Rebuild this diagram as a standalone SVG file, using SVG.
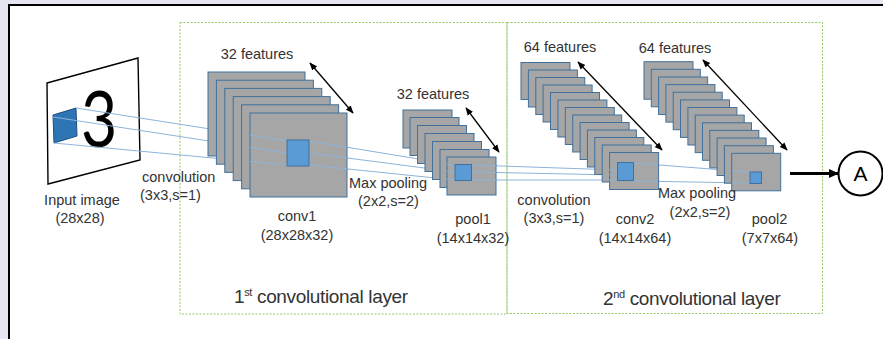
<svg xmlns="http://www.w3.org/2000/svg" xmlns:xlink="http://www.w3.org/1999/xlink" width="883" height="339" viewBox="0 0 883 339">
  <defs>
    <style>
      text { font-family: "Liberation Sans", Arial, sans-serif; fill: #333; font-size: 14.5px; }
      .c { text-anchor: middle; }
      .big { font-size: 19px; letter-spacing: -0.35px; }
      .map { fill: #a6a6a6; stroke: #41719c; stroke-width: 1; }
      .kern { fill: #5b9bd5; stroke: #41719c; stroke-width: 1; }
      .link { stroke: #8db3da; stroke-width: 1; fill: none; }
      .dim { stroke: #000; stroke-width: 1.3; fill: none; marker-start: url(#tip); marker-end: url(#tip); }
      .layer { fill: none; stroke: #92c967; stroke-width: 1; stroke-dasharray: 2 1.5; }
    </style>
    <marker id="tip" viewBox="0 0 10 10" refX="9" refY="5" markerWidth="8" markerHeight="8" orient="auto-start-reverse" markerUnits="userSpaceOnUse">
      <path d="M0,1 L10,5 L0,9 z" fill="#000"/>
    </marker>
    <marker id="head" viewBox="0 0 10 10" refX="9" refY="5" markerWidth="10" markerHeight="10" orient="auto" markerUnits="userSpaceOnUse">
      <path d="M0,0.5 L10,5 L0,9.5 z" fill="#000"/>
    </marker>
    <!-- front feature maps: links are shown on top of these only -->
    <clipPath id="front">
      <rect x="250" y="113" width="97" height="84"/>
      <rect x="447" y="157" width="49" height="38"/>
      <rect x="609" y="152" width="49" height="37"/>
      <rect x="732" y="153" width="49" height="37.5"/>
    </clipPath>
  </defs>

  <!-- page -->
  <rect x="0" y="0" width="883" height="339" fill="#e6e6f0"/>
  <rect x="9" y="5" width="900" height="400" fill="#fff" stroke="#000" stroke-width="2"/>

  <!-- layer frames -->
  <g id="layer1">
    <rect class="layer" x="180" y="22.5" width="327" height="291.5"/>
    <text class="big" x="234" y="303">1<tspan font-size="11" dy="-7">st</tspan><tspan dy="7"> convolutional layer</tspan></text>
  </g>
  <g id="layer2">
    <rect class="layer" x="507" y="22.5" width="315.5" height="291"/>
    <text class="big" x="603" y="305">2<tspan font-size="11" dy="-7">nd</tspan><tspan dy="7"> convolutional layer</tspan></text>
  </g>

  <!-- input image -->
  <g id="input">
    <polygon points="47,83 138,58 140,160 48,184" fill="#fff" stroke="#000" stroke-width="1.4"/>
    <text transform="translate(99,147) scale(0.8,1)" x="0" y="0" style="font-family: Lato, 'Open Sans', sans-serif; font-weight: 400; font-size: 78px; fill: #000" text-anchor="middle">3</text>
    <polygon class="kern" points="53,115 76,108 77,136 54,143" style="fill:#2e75b6;stroke:#1f4e79"/>
    <text class="c" x="82" y="205">Input image</text>
    <text class="c" x="80" y="223">(28x28)</text>
  </g>

  <!-- receptive-field links -->
  <g id="connectors">
    <line class="link" x1="76" y1="108" x2="287" y2="141"/>
    <line class="link" x1="53" y1="117" x2="287" y2="153"/>
    <line class="link" x1="54" y1="143" x2="287" y2="165"/>
    <line class="link" x1="309" y1="141" x2="455" y2="165"/>
    <line class="link" x1="309" y1="153" x2="455" y2="172"/>
    <line class="link" x1="309" y1="165" x2="455" y2="180"/>
    <line class="link" x1="472" y1="165" x2="617" y2="170"/>
    <line class="link" x1="472" y1="172" x2="617" y2="175"/>
    <line class="link" x1="472" y1="180" x2="617" y2="180"/>
    <line class="link" x1="633" y1="163" x2="750" y2="172"/>
    <line class="link" x1="633" y1="181" x2="750" y2="183"/>
  </g>

  <!-- conv1: 32 feature maps 28x28 -->
  <g id="conv1">
    <rect class="map" x="208" y="72" width="97" height="84"/>
    <rect class="map" x="216.4" y="80.2" width="97" height="84"/>
    <rect class="map" x="224.8" y="88.4" width="97" height="84"/>
    <rect class="map" x="233.2" y="96.6" width="97" height="84"/>
    <rect class="map" x="241.6" y="104.8" width="97" height="84"/>
    <rect class="map" x="250" y="113" width="97" height="84"/>
    <line class="dim" x1="310" y1="63" x2="353" y2="113"/>
    <text class="c" x="257" y="59">32 features</text>
    <text x="142" y="182">convolution</text>
    <text x="140" y="200">(3x3,s=1)</text>
    <text class="c" x="297" y="221">conv1</text>
    <text class="c" x="297" y="240">(28x28x32)</text>
  </g>

  <!-- pool1: 32 maps 14x14 -->
  <g id="pool1">
    <rect class="map" x="403" y="110" width="49" height="38"/>
    <rect class="map" x="410" y="117.5" width="49" height="38"/>
    <rect class="map" x="417.5" y="125.5" width="49" height="38"/>
    <rect class="map" x="425" y="133.5" width="49" height="38"/>
    <rect class="map" x="432.5" y="141.5" width="49" height="38"/>
    <rect class="map" x="440" y="149.5" width="49" height="38"/>
    <rect class="map" x="447" y="157" width="49" height="38"/>
    <line class="dim" x1="466" y1="108" x2="499" y2="152"/>
    <text class="c" x="433" y="99">32 features</text>
    <text x="349" y="188">Max pooling</text>
    <text x="358" y="206">(2x2,s=2)</text>
    <text class="c" x="473" y="224">pool1</text>
    <text class="c" x="473" y="242.5">(14x14x32)</text>
  </g>

  <!-- conv2: 64 feature maps 14x14 -->
  <g id="conv2">
    <rect class="map" x="521" y="62.5" width="49" height="37"/>
    <rect class="map" x="528.4" y="70" width="49" height="37"/>
    <rect class="map" x="535.8" y="77.5" width="49" height="37"/>
    <rect class="map" x="543.1" y="85" width="49" height="37"/>
    <rect class="map" x="550.5" y="92.5" width="49" height="37"/>
    <rect class="map" x="557.9" y="100" width="49" height="37"/>
    <rect class="map" x="565.3" y="107.5" width="49" height="37"/>
    <rect class="map" x="572.7" y="115" width="49" height="37"/>
    <rect class="map" x="580.1" y="122.5" width="49" height="37"/>
    <rect class="map" x="587.4" y="130" width="49" height="37"/>
    <rect class="map" x="594.8" y="137.5" width="49" height="37"/>
    <rect class="map" x="602.2" y="145" width="49" height="37"/>
    <rect class="map" x="609.6" y="152.5" width="49" height="37"/>
    <line class="dim" x1="578" y1="62" x2="662" y2="150"/>
    <text class="c" x="560" y="52">64 features</text>
    <text class="c" x="554" y="205">convolution</text>
    <text class="c" x="554" y="223">(3x3,s=1)</text>
    <text class="c" x="635" y="224">conv2</text>
    <text class="c" x="635" y="242.5">(14x14x64)</text>
  </g>

  <!-- pool2: 64 maps 7x7 -->
  <g id="pool2">
    <rect class="map" x="644" y="61.7" width="49" height="37.5"/>
    <rect class="map" x="651.3" y="69.3" width="49" height="37.5"/>
    <rect class="map" x="658.6" y="77" width="49" height="37.5"/>
    <rect class="map" x="665.9" y="84.6" width="49" height="37.5"/>
    <rect class="map" x="673.2" y="92.2" width="49" height="37.5"/>
    <rect class="map" x="680.5" y="99.9" width="49" height="37.5"/>
    <rect class="map" x="687.9" y="107.5" width="49" height="37.5"/>
    <rect class="map" x="695.2" y="115.1" width="49" height="37.5"/>
    <rect class="map" x="702.5" y="122.8" width="49" height="37.5"/>
    <rect class="map" x="709.8" y="130.4" width="49" height="37.5"/>
    <rect class="map" x="717.1" y="138" width="49" height="37.5"/>
    <rect class="map" x="724.4" y="145.7" width="49" height="37.5"/>
    <rect class="map" x="731.7" y="153.3" width="49" height="37.5"/>
    <line class="dim" x1="703" y1="60" x2="787" y2="150"/>
    <text class="c" x="675" y="52.5">64 features</text>
    <text class="c" x="697" y="198">Max pooling</text>
    <text class="c" x="700" y="217">(2x2,s=2)</text>
    <text class="c" x="769.5" y="224">pool2</text>
    <text class="c" x="770" y="242.5">(7x7x64)</text>
  </g>

  <!-- links drawn again over the front maps -->
  <use xlink:href="#connectors" clip-path="url(#front)"/>

  <!-- kernels / pooled windows on the front maps -->
  <g id="windows">
    <rect class="kern" x="287" y="140" width="22" height="26"/>
    <rect class="kern" x="455" y="164.5" width="16.5" height="16"/>
    <rect class="kern" x="617.5" y="162.5" width="16" height="18"/>
    <rect class="kern" x="750" y="172" width="11.5" height="11.5"/>
  </g>

  <!-- output -->
  <g id="out">
    <line x1="790" y1="173.5" x2="838" y2="173.5" stroke="#000" stroke-width="3" marker-end="url(#head)"/>
  </g>
  <g id="nodeA">
    <circle cx="860.5" cy="173.5" r="22" fill="#fff" stroke="#000" stroke-width="2"/>
    <text x="860.5" y="181" text-anchor="middle" style="font-size: 21px; fill: #000">A</text>
  </g>
</svg>
